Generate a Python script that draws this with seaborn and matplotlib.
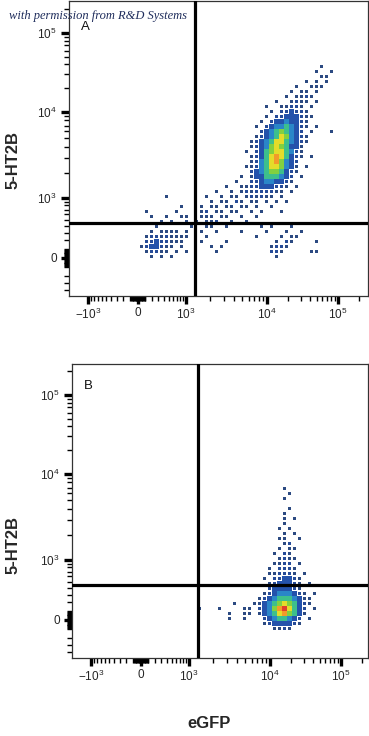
import numpy as np
import pandas as pd
import matplotlib
matplotlib.use("Agg")
import matplotlib.pyplot as plt
import seaborn as sns
from matplotlib.ticker import FixedLocator, FixedFormatter, NullFormatter

sns.set_theme(style="white")
plt.rcParams['font.family'] = ['Liberation Sans', 'DejaVu Sans']
plt.rcParams['mathtext.fontset'] = 'custom'
plt.rcParams['mathtext.rm'] = 'Liberation Sans'
plt.rcParams['mathtext.it'] = 'Liberation Sans:italic'
plt.rcParams['mathtext.bf'] = 'Liberation Sans:bold'

# ---------------- data ----------------
TICK_VALUES = [-1000, 0, 1000, 10000, 100000]
X_TICK_LABELS = [r'$-10^3$', '0', r'$10^3$', r'$10^4$', r'$10^5$']
Y_TICK_LABELS = ['', '0', r'$10^3$', r'$10^4$', r'$10^5$']
PANELS = ['A', 'B']
GATE_X = [1300, 1300]          # eGFP gate per panel
GATE_Y = [450, 440]            # 5-HT2B gate per panel

# event density (pseudocolour level 0-9), one character per cell,
# rows top -> bottom, columns left -> right
DENSITY_A = [
    ".......... .......... .......... ......1..",
    ".......... .......... .......... .....1..1",
    ".......... .......... .......... ......11.",
    ".......... .......... .......... ...1.1.1.",
    ".......... .......... .......... .1..111..",
    ".......... .......... .......... 1.11.1...",
    ".......... .......... .........1 .1121....",
    ".......... .......... .......1.. 1211.1...",
    ".......... .......... .....1..11 221.1....",
    ".......... .......... ......1.22 3221.....",
    ".......... .......... .....1.223 33211....",
    ".......... .......... ....1.2334 3321.....",
    ".......... .......... ...1.23445 4321.1...",
    ".......... .......... ....234565 432.1...1",
    ".......... .......... ...1234576 4321.....",
    ".......... .......... ..12345775 4321.....",
    ".......... .......... ..12346765 331......",
    ".......... .......... .1.2356775 421......",
    ".......... .......... ..12357875 321.1....",
    ".......... .......... ..12457864 32.......",
    ".......... .......... .112457764 31.1.....",
    ".......... .......... ..23456653 21.......",
    ".......... .......... 1.13355543 2.1......",
    ".......... .........1 ..22344332 1........",
    ".......... .......1.. 1122333221 .1.......",
    ".......... .....1..1. 121222211. 1........",
    ".....1.... ...1..1.11 .121211.1. .........",
    ".......... ....1.11.2 1.11.1.1.1 .........",
    "........1. ..1.11.11. 11.1..1... .........",
    ".1.....1.. ..12.11.11 ..1.1...1. .........",
    "..1..1..11 ..111.11.. 1..1...... .........",
    "....1.1..1 .1.112..1. .1........ .........",
    "...1...... 1..11..1.. ....1.1... 1........",
    "..1.1111.1 ..1..1.... 1....1...1 ..1......",
    ".122121111 ...1...... ...1....1. 11.......",
    ".22322111. ..1....1.. .......1.2 1....1...",
    "1233211.1. ....1.1... ......1221 .........",
    ".12211.1.1 .....1.... ......221. ....11...",
    "..1.1.1... .......... .......1.. .........",
]

DENSITY_B = [
    ".......... .......1.. .....",
    ".......... ........1. .....",
    ".......... .......1.. .....",
    ".......... .......... .....",
    ".......... ........1. .....",
    ".......... .......1.. .....",
    ".......... .......1.1 .....",
    ".......... .......1.. .....",
    ".......... ......1.1. .....",
    ".......... .......1.1 .....",
    ".......... ......11.. 1....",
    ".......... .......12. .....",
    ".......... ......1.11 .....",
    ".......... .....1.21. .....",
    ".......... ......1211 .....",
    ".......... .....1122. 1....",
    ".......... ....1.2221 .....",
    ".......... ....112221 .1...",
    ".......... ...1.22332 1....",
    ".......... ....123332 1.1..",
    ".......... ....233332 1....",
    ".......... ...1234443 21.1.",
    ".......... ..12345554 311..",
    ".......1.. .113456765 321..",
    "1...1....1 1.23468975 32.1.",
    "......1..1 1.13457865 31...",
    "......1..1 ...2345543 2.1..",
    ".......... ...1233332 1....",
    ".......... .....1121. .....",
]

# ---------------- styling ----------------
PALETTE = {1: "#2c4a82", 2: "#264b98", 3: "#2452ab", 4: "#2a86c8", 5: "#3dbf8c",
           6: "#82d040", 7: "#e4dc2a", 8: "#f39a2a", 9: "#e0402a"}
SIZES = {1: 3.2, 2: 5.5, 3: 9, 4: 13, 5: 14, 6: 14, 7: 14, 8: 14, 9: 14}

W, H, DPI = 369, 736, 100
COF = 400.0
X_KNOT_POS = [19, 69, 117, 198, 269]   # axis position (px) of TICK_VALUES
Y_KNOT_POS = [-22, 38, 98, 184, 263]


def make_scale(knot_pos):
    u = np.arcsinh(np.asarray(TICK_VALUES, float) / COF)
    p = np.asarray(knot_pos, float)
    s0 = (p[1] - p[0]) / (u[1] - u[0])
    s1 = (p[-1] - p[-2]) / (u[-1] - u[-2])
    U = np.concatenate([[u[0] - 40], u, [u[-1] + 40]])
    P = np.concatenate([[p[0] - 40 * s0], p, [p[-1] + 40 * s1]])

    def fwd(v):
        return np.interp(np.arcsinh(np.asarray(v, float) / COF), U, P)

    def inv(q):
        return COF * np.sinh(np.interp(np.asarray(q, float), P, U))
    return fwd, inv


fx, ix = make_scale(X_KNOT_POS)
fy, iy = make_scale(Y_KNOT_POS)

minor = []
for sgn in (-1, 1):
    for k in (1, 2):
        minor += [sgn * m * 10 ** k for m in range(1, 10)]
    for k in (3, 4):
        minor += [sgn * m * 10 ** k for m in range(2, 10)]
minor += [200000]

fig = plt.figure(figsize=(W / DPI, H / DPI), dpi=DPI)
fig.patch.set_facecolor('white')

# axes rectangles in pixels: left, top, width, height; grid origin (pos units)
AX_PX = [(69, 1, 299, 295), (72, 364, 296, 294)]
GRID_ORIGIN = [(70, 232), (125, 172)]
CELL = 5
DENSITIES = [DENSITY_A, DENSITY_B]

for i, name in enumerate(PANELS):
    l, t, w, h = AX_PX[i]
    ax = fig.add_axes([l / W, 1 - (t + h) / H, w / W, h / H])
    ax.set_facecolor('white')
    ax.set_xscale('function', functions=(fx, ix))
    ax.set_yscale('function', functions=(fy, iy))

    rows = [r.replace(" ", "") for r in DENSITIES[i]]
    x0, y0 = GRID_ORIGIN[i]
    recs = []
    for r, row in enumerate(rows):
        for c, ch in enumerate(row):
            if ch != '.':
                recs.append((float(ix(x0 + CELL * (c + 0.5))),
                             float(iy(y0 - CELL * (r + 0.5))), int(ch)))
    df = pd.DataFrame(recs, columns=['eGFP', '5-HT2B', 'level'])
    sns.scatterplot(data=df, x='eGFP', y='5-HT2B', hue='level', palette=PALETTE,
                    size='level', sizes=SIZES, marker='s', linewidth=0,
                    legend=False, ax=ax, zorder=2)

    ax.set_xlim(ix(0), ix(w))
    ax.set_ylim(iy(0), iy(h))

    ax.axvline(GATE_X[i], color='black', lw=2.3, zorder=3)
    ax.axhline(GATE_Y[i], color='black', lw=2.3, zorder=3)

    ax.xaxis.set_major_locator(FixedLocator(TICK_VALUES))
    ax.xaxis.set_major_formatter(FixedFormatter(X_TICK_LABELS))
    ax.yaxis.set_major_locator(FixedLocator(TICK_VALUES))
    ax.yaxis.set_major_formatter(FixedFormatter(Y_TICK_LABELS))
    ax.xaxis.set_minor_locator(FixedLocator(minor))
    ax.yaxis.set_minor_locator(FixedLocator(minor))
    ax.xaxis.set_minor_formatter(NullFormatter())
    ax.yaxis.set_minor_formatter(NullFormatter())
    ax.tick_params(which='major', direction='out', length=5.8, width=2.4,
                   color='black', labelsize=8.5, pad=2, bottom=True, left=True)
    ax.tick_params(which='minor', direction='out', length=3.4, width=1.0,
                   color='black', bottom=True, left=True)
    ax.tick_params(axis='y', which='major', pad=3)
    ax.set_xlabel('')
    ax.set_ylabel('')
    for sp in ax.spines.values():
        sp.set_color('#333333')
        sp.set_linewidth(0.9)

    ax.text(0.04, 1 - (26 if i == 0 else 22) / h, name, transform=ax.transAxes,
            fontsize=9.5, ha='left', va='center', color='#111111')

fig.text(13 / W, 1 - 160 / H, '5-HT2B', rotation=90, ha='center', va='center',
         fontweight='bold', fontsize=12)
fig.text(13 / W, 1 - 545 / H, '5-HT2B', rotation=90, ha='center', va='center',
         fontweight='bold', fontsize=12)
fig.text(209 / W, 1 - 723 / H, 'eGFP', ha='center', va='center',
         fontweight='bold', fontsize=12)
fig.text(9 / W, 1 - 16 / H, 'with permission from R&D Systems', ha='left',
         va='center', fontsize=9, fontstyle='italic',
         family=['Liberation Serif', 'DejaVu Serif'], color='#1f2d5c')

fig.savefig('out.png', dpi=DPI, facecolor='white')
